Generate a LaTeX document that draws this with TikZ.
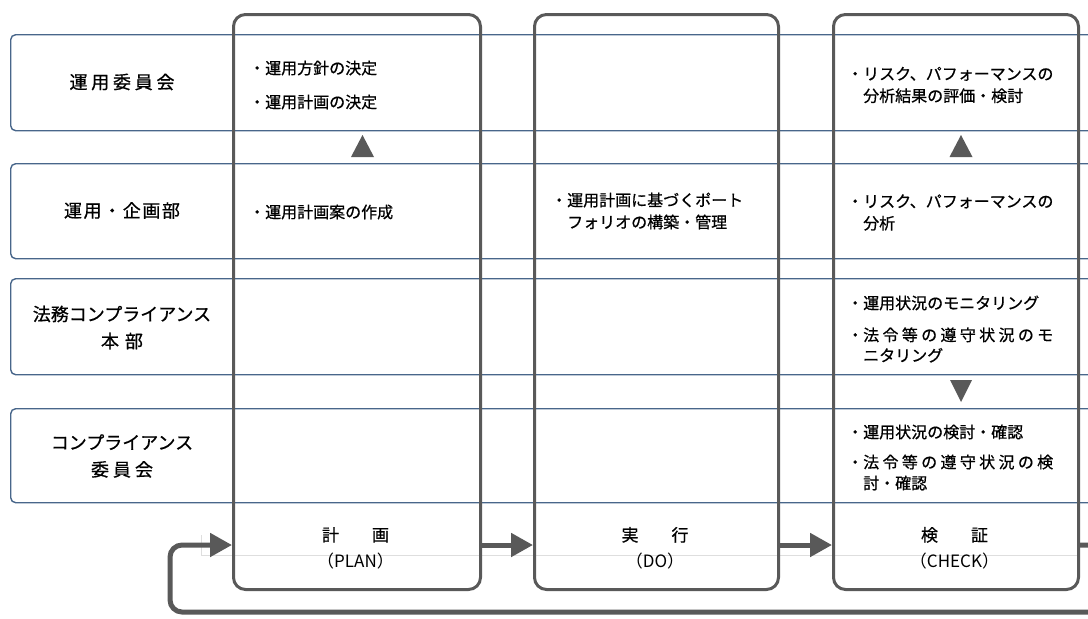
\documentclass[tikz,border=0pt]{standalone}
\usepackage{fontspec}
\setmainfont{Noto Sans CJK JP}
\newfontfamily\jpb[FakeBold=0.7]{Noto Sans CJK JP}
\usetikzlibrary{arrows.meta}
\definecolor{colline}{HTML}{595959}
\definecolor{rowline}{RGB}{72,102,138}
\definecolor{faintline}{RGB}{222,222,222}
\begin{document}
\begin{tikzpicture}[x=1pt,y=-1pt,
 rowbox/.style={draw=rowline, line width=1.4pt, rounded corners=5pt, minimum width=1100pt, inner sep=0pt, anchor=north west},
 colbox/.style={draw=colline, line width=3pt, rounded corners=12pt, inner sep=0pt, minimum height=575pt, anchor=north west},
 flow/.style={draw=colline, line width=5pt, -{Triangle[length=22pt,width=23pt]}},
 marker/.style={fill=colline},
 rowlabel/.style={font=\jpb\fontsize{18}{27}\selectfont, align=center, inner sep=0pt},
 item/.style={font=\jpb\fontsize{16}{22}\selectfont, anchor=west, align=left, inner sep=0pt},
 phase/.style={font=\fontsize{17}{26}\selectfont, align=center, inner sep=0pt},
]
\useasboundingbox (0,0) rectangle (1088,619);
\clip (0,0) rectangle (1088,619);
% rows
\node[rowbox, minimum height=96pt] (r1) at (10,34) {};
\node[rowbox, minimum height=95pt] (r2) at (10,163) {};
\node[rowbox, minimum height=96pt] (r3) at (10,278) {};
\node[rowbox, minimum height=94pt] (r4) at (10,408) {};
% faint line
\draw[faintline, line width=0.8pt] (201,535) -- (201,555) -- (1077,555);
% columns
\node[colbox, minimum width=247pt] (plan) at (232,13) {};
\node[colbox, minimum width=244pt] (do) at (533,13) {};
\node[colbox, minimum width=245pt] (check) at (832,13) {};
% row labels
\node[rowlabel] (l1) at (122,82) {\makebox[105pt][s]{運\hfil 用\hfil 委\hfil 員\hfil 会}};
\node[rowlabel] (l2) at (122,210.5) {\makebox[116pt][s]{運\hfil 用\hfil ・\hfil 企\hfil 画\hfil 部}};
\node[rowlabel] (l3) at (122,327.5) {法務コンプライアンス\\\makebox[42pt][s]{本\hfil 部}};
\node[rowlabel] (l4) at (122,456) {コンプライアンス\\\makebox[62pt][s]{委\hfil 員\hfil 会}};
% plan items
\node[item] (p1) at (249,68) {・運用方針の決定};
\node[item] (p2) at (249,102) {・運用計画の決定};
\node[item] (p3) at (249,212) {・運用計画案の作成};
% do items
\node[item] (d1) at (551,211) {・運用計画に基づくポート\\\hphantom{・}フォリオの構築・管理};
% check items
\node[item] (c1) at (847,85) {・リスク、パフォーマンスの\\\hphantom{・}分析結果の評価・検討};
\node[item] (c2) at (847,212.5) {・リスク、パフォーマンスの\\\hphantom{・}分析};
\node[item] (c3) at (847,303) {・運用状況のモニタリング};
\node[item, font=\jpb\fontsize{16}{20.5}\selectfont] (c4) at (847,345) {・\makebox[190pt][s]{法\hfil 令\hfil 等\hfil の\hfil 遵\hfil 守\hfil 状\hfil 況\hfil の\hfil モ}\\\hphantom{・}ニタリング};
\node[item] (c5) at (847,432) {・運用状況の検討・確認};
\node[item, font=\jpb\fontsize{16}{21}\selectfont] (c6) at (847,472.5) {・\makebox[190pt][s]{法\hfil 令\hfil 等\hfil の\hfil 遵\hfil 守\hfil 状\hfil 況\hfil の\hfil 検}\\\hphantom{・}討・確認};
% markers
\fill[marker] (351,157) -- (374,157) -- (362.5,135) -- cycle;
\fill[marker] (949.5,157) -- (972.5,157) -- (961,135) -- cycle;
\fill[marker] (950,380) -- (972,380) -- (961,402) -- cycle;
% phase labels
\node[phase] (t1) at (355.5,548) {{\jpb 計\hspace{33pt}画}\\（PLAN）};
\node[phase] (t2) at (655,548) {{\jpb 実\hspace{33pt}行}\\（DO）};
\node[phase] (t3) at (954.5,548) {{\jpb 検\hspace{33pt}証}\\（CHECK）};
% flow arrows
\coordinate (lv) at (0,545);
\coordinate (loopr) at (1110,545);
\coordinate (loopbr) at (1110,612);
\coordinate (loopbl) at (170,612);
\coordinate (looptl) at (170,545);
\draw[flow] (plan.east |- lv) -- (do.west |- lv);
\draw[flow] (do.east |- lv) -- (check.west |- lv);
\draw[flow, rounded corners=12pt] (check.east |- lv) -- (loopr) -- (loopbr) -- (loopbl) -- (looptl) -- (plan.west |- lv);
\end{tikzpicture}
\end{document}
